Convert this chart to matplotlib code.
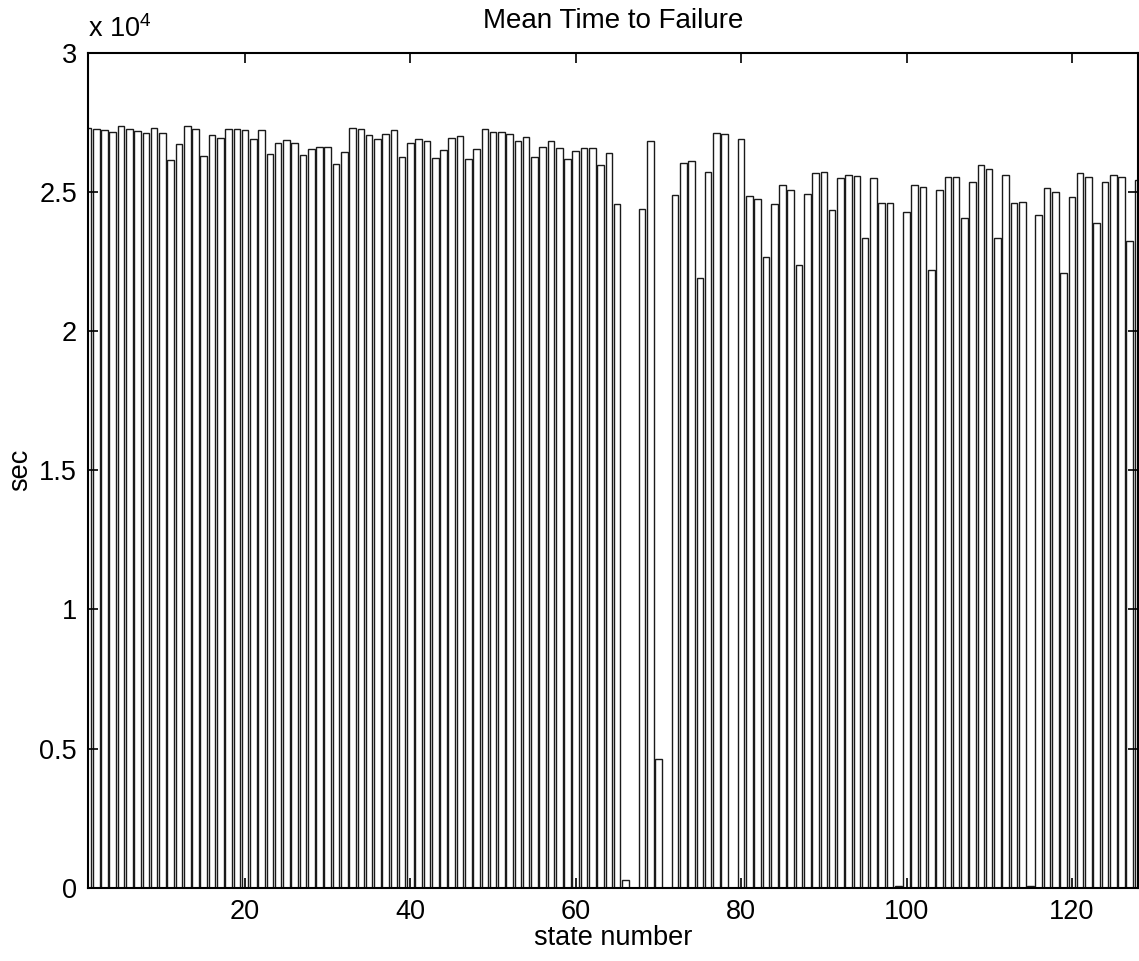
import numpy as np
import matplotlib
matplotlib.use("Agg")
import matplotlib.pyplot as plt

# mean time to failure per state (sec)
states = np.arange(1, 129)
mttf = [
    27290, 27250, 27230, 27150, 27360, 27270, 27180, 27120, 27290, 27120,
    26150, 26710, 27360, 27270, 26290, 27050, 26950, 27260, 27260, 27210,
    26910, 27230, 26350, 26760, 26860, 26750, 26320, 26530, 26600, 26600,
    26000, 26440, 27300, 27260, 27040, 26900, 27090, 27230, 26260, 26770,
    26900, 26840, 26230, 26510, 26940, 26990, 26170, 26540, 27270, 27150,
    27140, 27090, 26820, 26980, 26260, 26620, 26820, 26590, 26170, 26460,
    26560, 26560, 25960, 26400, 24570, 280, 0, 24390, 26830, 4610,
    0, 24900, 26050, 26110, 21920, 25730, 27110, 27070, 0, 26910,
    24840, 24730, 22650, 24550, 25230, 25080, 22380, 24930, 25690, 25700,
    24350, 25500, 25620, 25580, 23330, 25490, 24600, 24600, 60, 24290,
    25260, 25180, 22180, 25070, 25550, 25530, 24050, 25360, 25980, 25830,
    23360, 25620, 24590, 24630, 60, 24160, 25140, 25010, 22100, 24830,
    25690, 25550, 23870, 25360, 25600, 25550, 23240, 25440,
]
xticks = [20, 40, 60, 80, 100, 120]
yticks = [0, 5000, 10000, 15000, 20000, 25000, 30000]
ytick_labels = ["0", "0.5", "1", "1.5", "2", "2.5", "3"]

plt.rcParams['font.family'] = ['Liberation Sans', 'DejaVu Sans']

fig = plt.figure(figsize=(11.39, 9.61), dpi=100)
ax = fig.add_axes([88 / 1139, 73.3 / 961, 1050 / 1139, 835 / 961])

ax.bar(states, mttf, width=0.8, color='white', edgecolor='#1a1a1a', linewidth=1.0)

ax.set_xlim(1, 128)
ax.set_ylim(0, 30000)
ax.set_xticks(xticks)
ax.set_yticks(yticks)
ax.set_yticklabels(ytick_labels)
ax.tick_params(direction='in', length=7, width=1.2, top=True, right=True,
               labelsize=19.5, pad=8)
for s in ax.spines.values():
    s.set_linewidth(1.5)

ax.set_title("Mean Time to Failure", fontsize=20, pad=18)
ax.set_xlabel("state number", fontsize=19.5, labelpad=0)
ax.set_ylabel("sec", fontsize=19.5, labelpad=4)
ax.text(0.0, 1.012, r"x 10$^{\mathregular{4}}$", transform=ax.transAxes,
        fontsize=19.5, ha='left', va='bottom')

fig.savefig("out.png", dpi=100)
